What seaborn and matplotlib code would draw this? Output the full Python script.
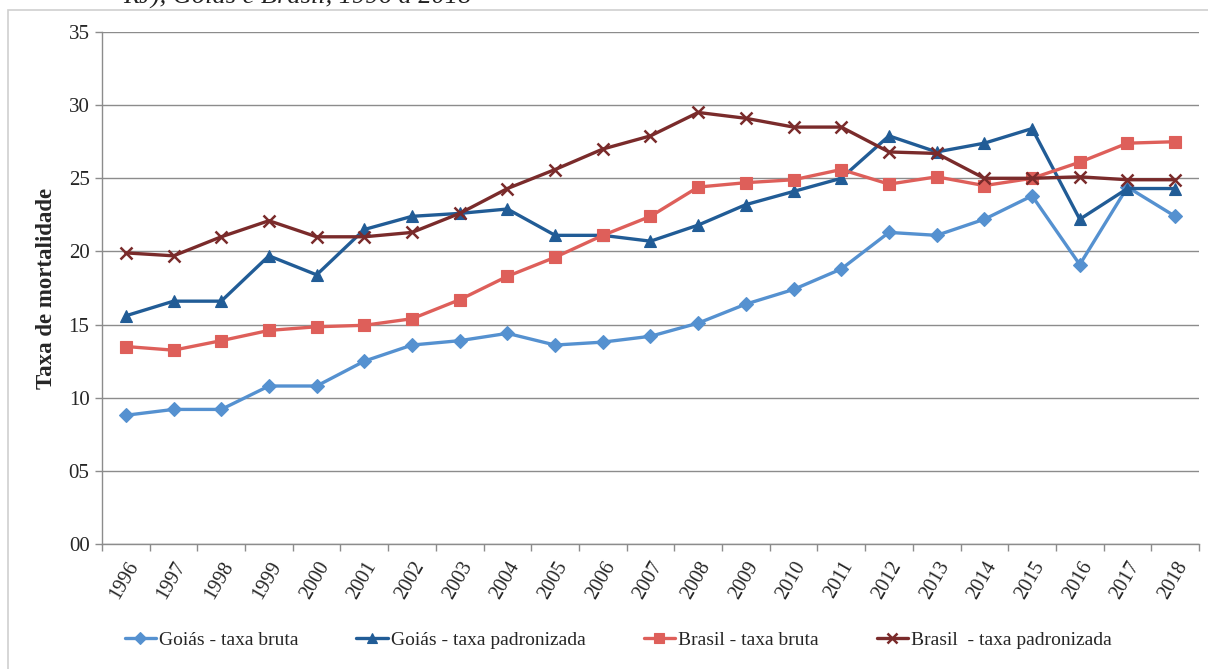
import numpy as np
import pandas as pd
import matplotlib
matplotlib.use("Agg")
import matplotlib.pyplot as plt
from matplotlib.patches import Rectangle
import seaborn as sns

years = [str(y) for y in range(1996, 2019)]

goias_bruta = [8.8, 9.2, 9.2, 10.8, 10.8, 12.5, 13.6, 13.9, 14.4, 13.6, 13.8, 14.2,
               15.1, 16.4, 17.4, 18.8, 21.3, 21.1, 22.2, 23.8, 19.1, 24.4, 22.4]
goias_padronizada = [15.6, 16.6, 16.6, 19.7, 18.4, 21.5, 22.4, 22.6, 22.9, 21.1, 21.1, 20.7,
                     21.8, 23.2, 24.1, 25.0, 27.9, 26.8, 27.4, 28.4, 22.2, 24.3, 24.3]
brasil_bruta = [13.5, 13.25, 13.9, 14.6, 14.85, 14.95, 15.4, 16.7, 18.3, 19.6, 21.1, 22.4,
                24.4, 24.7, 24.9, 25.6, 24.6, 25.1, 24.5, 25.0, 26.1, 27.4, 27.5]
brasil_padronizada = [19.9, 19.7, 21.0, 22.1, 21.0, 21.0, 21.3, 22.6, 24.3, 25.6, 27.0, 27.9,
                      29.5, 29.1, 28.5, 28.5, 26.8, 26.7, 25.0, 25.0, 25.1, 24.9, 24.9]

series_names = ["Goiás - taxa bruta", "Goiás - taxa padronizada",
                "Brasil - taxa bruta", "Brasil  - taxa padronizada"]
series_values = [goias_bruta, goias_padronizada, brasil_bruta, brasil_padronizada]
colors = ["#5591D0", "#215C96", "#DE5F5A", "#7A2B2B"]
markers = ["D", "^", "s", "x"]
marker_sizes = [7, 9, 9, 9]

y_ticks = [0, 5, 10, 15, 20, 25, 30, 35]
y_tick_labels = ["00", "05", "10", "15", "20", "25", "30", "35"]

sns.set_theme(style="white")
plt.rcParams["font.family"] = ["Liberation Serif", "DejaVu Serif"]

W, H = 1208, 669
fig = plt.figure(figsize=(W / 100, H / 100), dpi=100)
ax = fig.add_axes([102 / W, 1 - 544 / H, (1199 - 102) / W, (544 - 32) / H])

# outer chart frame
fig.patches.append(Rectangle((8 / W, -0.05), 1.2, 1 - 10 / H + 0.05,
                             transform=fig.transFigure, fill=False,
                             edgecolor="#cfcfcf", linewidth=1.2, zorder=0))

# caption line running off the top edge
fig.text(123 / W, 1 - 4 / H, "RJ), Goiás e Brasil, 1996 a 2018", fontsize=19,
         style="italic", ha="left", va="baseline", color="#222222")

x = np.arange(len(years))
for name, vals, col, mk, ms in zip(series_names, series_values, colors, markers, marker_sizes):
    df = pd.DataFrame({"x": x, "y": vals})
    sns.lineplot(data=df, x="x", y="y", ax=ax, color=col, linewidth=2.4,
                 marker=mk, markersize=ms, markeredgecolor=col,
                 markeredgewidth=1.8 if mk == "x" else 0.8, label=name)

ax.set_xlim(-0.5, len(years) - 0.5)
ax.set_ylim(0, 35)
ax.set_yticks(y_ticks)
ax.set_yticklabels(y_tick_labels, fontsize=15)
ax.set_xticks(x)
ax.set_xticklabels(years, rotation=60, ha="right", rotation_mode="anchor", fontsize=14.5)
ax.set_xticks(np.arange(-0.5, len(years)), minor=True)
ax.tick_params(axis="x", which="major", length=0, pad=10)
ax.tick_params(axis="x", which="minor", length=5, color="#8c8c8c", width=1, direction="out", bottom=True)
ax.tick_params(axis="y", which="major", length=5, color="#8c8c8c", width=1, direction="out", left=True, pad=4)
ax.set_xlabel("")
ax.set_ylabel("Taxa de mortalidade", fontsize=16.5, fontweight="bold", labelpad=8)

ax.grid(axis="y", color="#8c8c8c", linewidth=1)
ax.grid(axis="x", visible=False)
for side in ["top", "right"]:
    ax.spines[side].set_visible(False)
for side in ["left", "bottom"]:
    ax.spines[side].set_color("#8c8c8c")
    ax.spines[side].set_linewidth(1)

ax.legend_.remove()
handles, labels = ax.get_legend_handles_labels()
fig.legend(handles, labels, loc="center", bbox_to_anchor=(618 / W, 1 - 640 / H), ncol=4,
           frameon=False, fontsize=14, handlelength=1.6, handletextpad=0.15,
           columnspacing=3.0, markerscale=0.85)

fig.savefig("out.png", dpi=100)
